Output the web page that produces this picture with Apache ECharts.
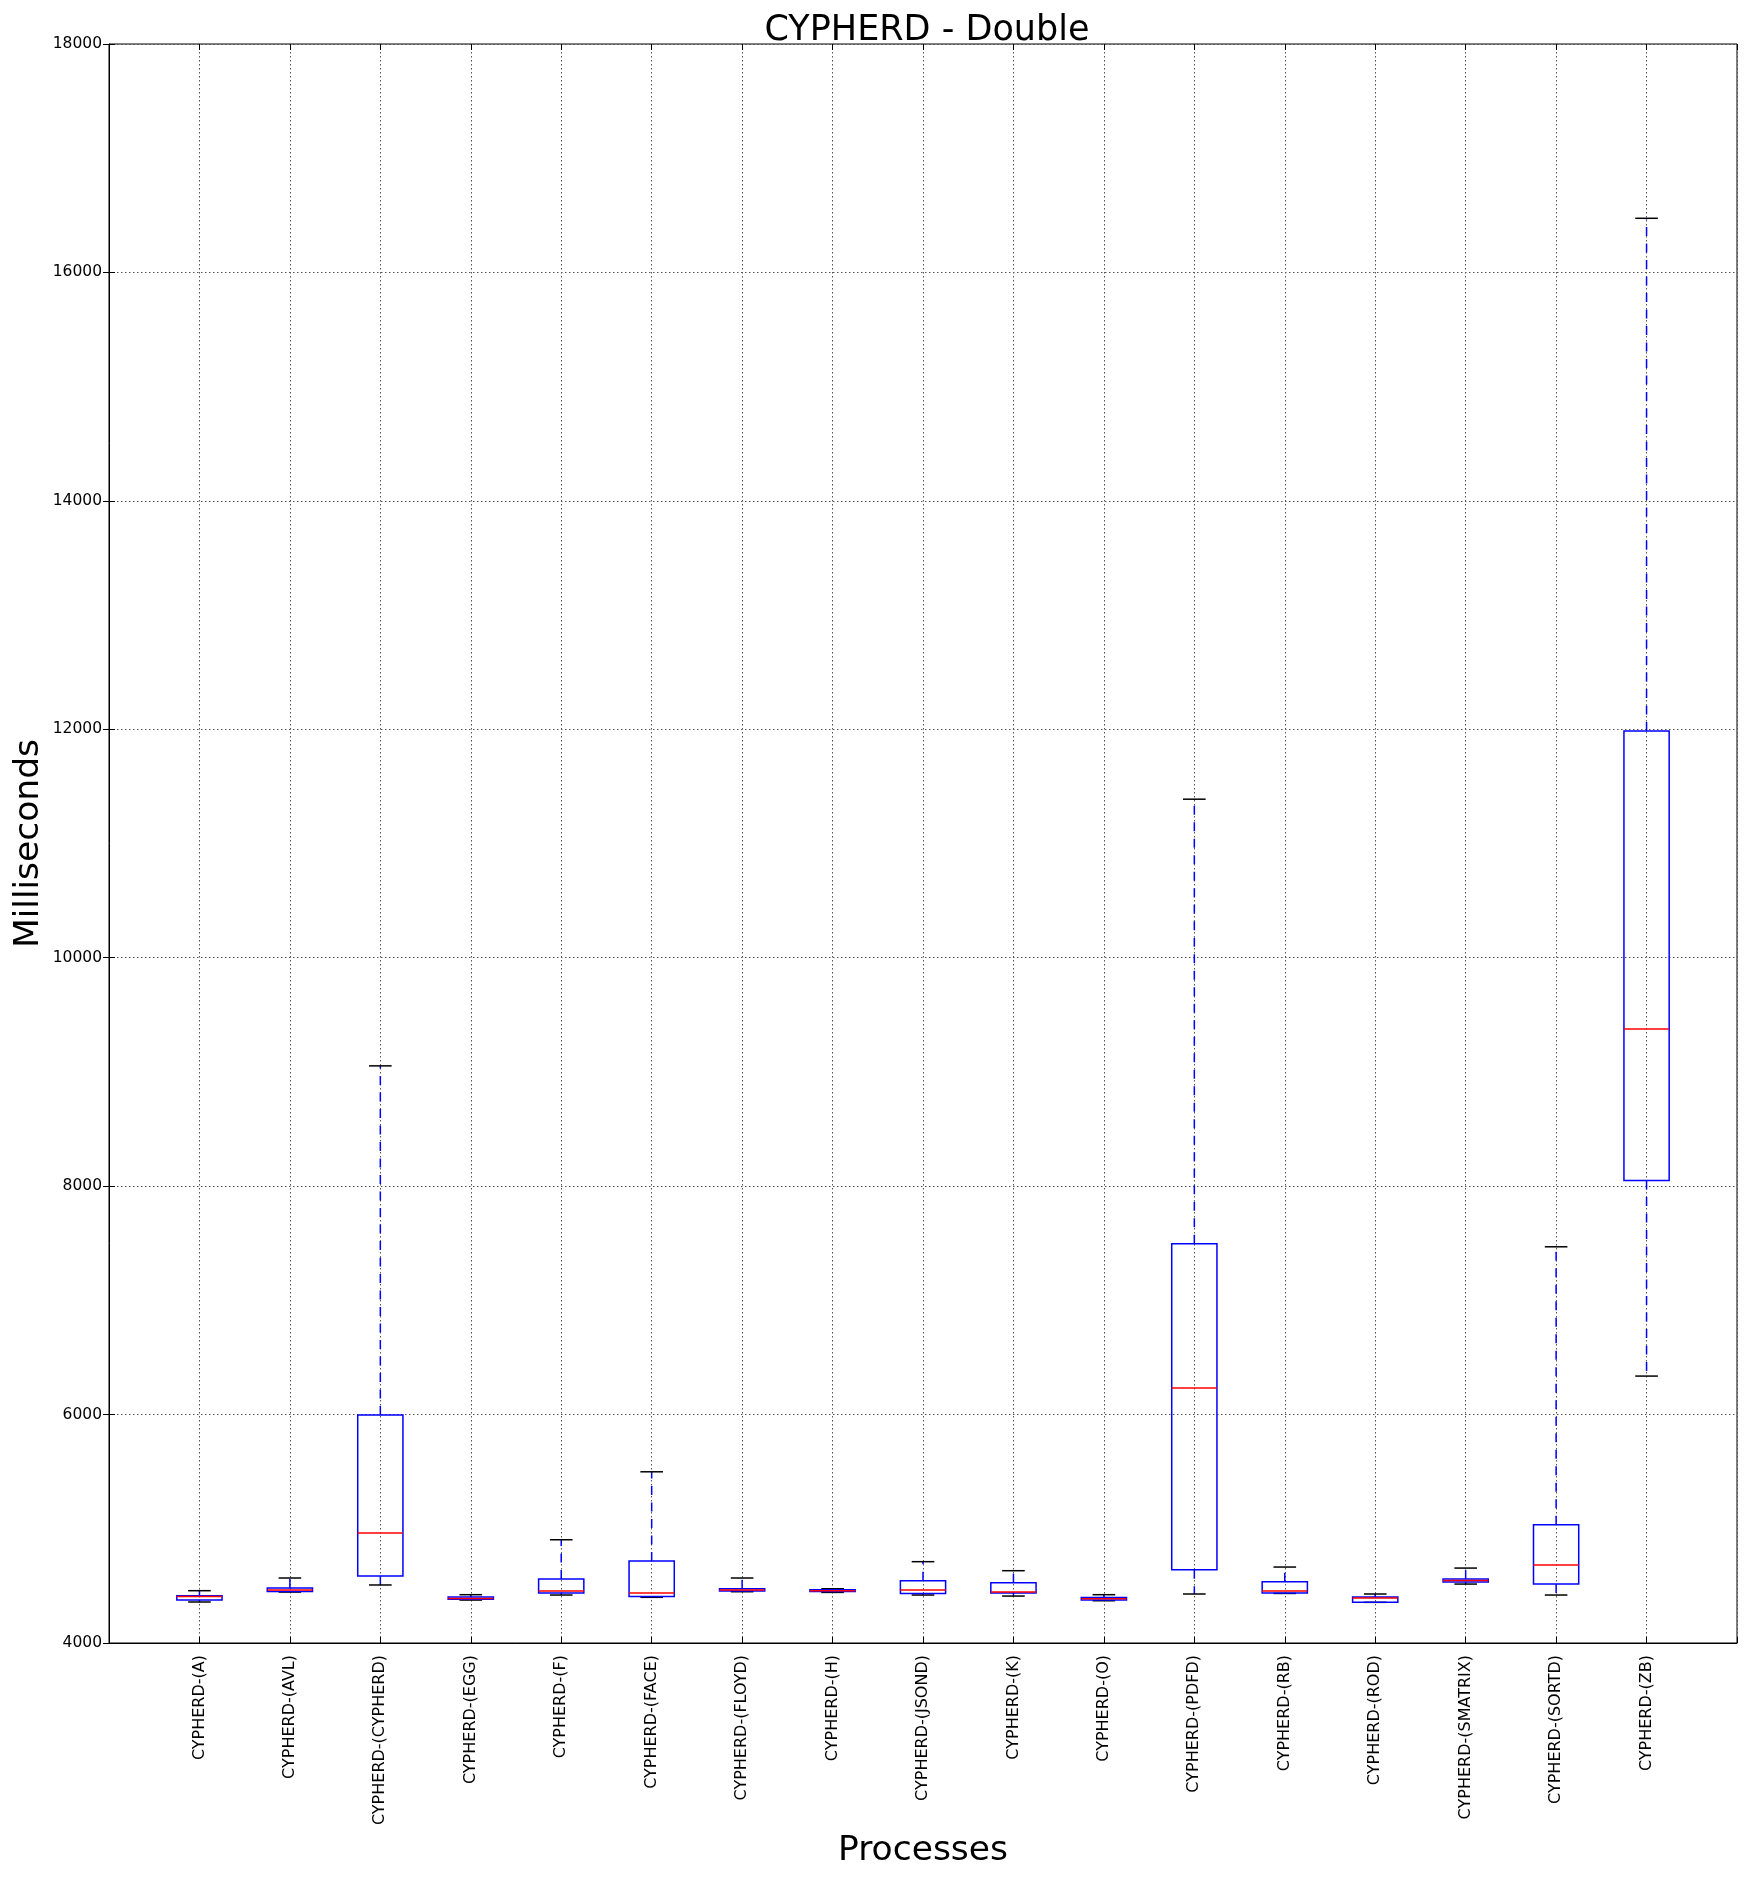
<!DOCTYPE html>
<html>
<head>
<meta charset="utf-8">
<script src="https://cdn.jsdelivr.net/npm/echarts@6/dist/echarts.min.js"></script>
<style>
html,body{margin:0;padding:0;background:#fff;}
#chart{width:1746px;height:1877px;}
</style>
</head>
<body>
<div id="chart"></div>
<script>
const categories = ['CYPHERD-(A)','CYPHERD-(AVL)','CYPHERD-(CYPHERD)','CYPHERD-(EGG)','CYPHERD-(F)','CYPHERD-(FACE)','CYPHERD-(FLOYD)','CYPHERD-(H)','CYPHERD-(JSOND)','CYPHERD-(K)','CYPHERD-(O)','CYPHERD-(PDFD)','CYPHERD-(RB)','CYPHERD-(ROD)','CYPHERD-(SMATRIX)','CYPHERD-(SORTD)','CYPHERD-(ZB)'];
const whiskerLow  = [4359, 4446, 4508, 4376, 4420, 4400, 4449, 4443, 4420, 4411, 4370, 4429, 4434, 4356, 4516, 4420, 6337];
const q1          = [4376, 4452, 4586, 4382, 4438, 4408, 4455, 4452, 4434, 4438, 4376, 4642, 4437, 4356, 4534, 4516, 8049];
const medians     = [4408, 4464, 4963, 4390, 4455, 4438, 4464, 4458, 4464, 4446, 4388, 6232, 4455, 4394, 4548, 4683, 9375];
const q3          = [4413, 4481, 5996, 4403, 4560, 4718, 4475, 4467, 4545, 4528, 4399, 7495, 4536, 4403, 4560, 5036, 11985];
const whiskerHigh = [4458, 4569, 9053, 4423, 4904, 5499, 4569, 4475, 4712, 4633, 4423, 11388, 4665, 4429, 4656, 7469, 16474];
const yTicks = {min: 4000, max: 18000, interval: 2000};

const data = categories.map((c, i) => [i + 1, whiskerLow[i], q1[i], medians[i], q3[i], whiskerHigh[i]]);

const chart = echarts.init(document.getElementById('chart'), null, {renderer: 'canvas'});
const FONT = 'DejaVu Sans';
const gridLine = {show: true, lineStyle: {color: '#555', width: 1, type: [1.5, 2.5]}};

const option = {
  backgroundColor: '#fff',
  animation: false,
  title: {
    text: 'CYPHERD - Double',
    left: 922, top: 8, textAlign: 'center',
    textStyle: {fontFamily: FONT, fontSize: 35, fontWeight: 'normal', color: '#000'}
  },
  grid: {left: 109, top: 44, right: 9, bottom: 234, show: true, borderColor: '#000', borderWidth: 1,
    containLabel: false, outerBoundsMode: 'none'},
  xAxis: [{
    type: 'value', min: 0, max: 18, interval: 1,
    name: 'Processes', nameLocation: 'middle', nameGap: 191, nameMoveOverlap: false,
    nameTextStyle: {fontFamily: FONT, fontSize: 34.5, color: '#000'},
    axisLine: {show: true, lineStyle: {color: '#000', width: 1}},
    axisTick: {show: true, inside: true, length: 6, lineStyle: {color: '#000'}},
    axisLabel: {
      rotate: 90, margin: 12, fontFamily: FONT, fontSize: 16, color: '#000',
      showMinLabel: true, showMaxLabel: true,
      formatter: v => (v >= 1 && v <= categories.length && Number.isInteger(v)) ? categories[v - 1] : ''
    },
    splitLine: gridLine
  }, {
    type: 'value', position: 'top', min: 0, max: 18, interval: 1,
    axisLine: {show: false}, axisLabel: {show: false}, splitLine: {show: false},
    axisTick: {show: true, inside: true, length: 6, lineStyle: {color: '#000'}}
  }],
  yAxis: [{
    type: 'value', min: yTicks.min, max: yTicks.max, interval: yTicks.interval,
    name: 'Milliseconds', nameLocation: 'middle', nameGap: 62, nameRotate: 90, nameMoveOverlap: false,
    nameTextStyle: {fontFamily: FONT, fontSize: 34.5, color: '#000'},
    axisLine: {show: true, lineStyle: {color: '#000', width: 1}},
    axisTick: {show: true, inside: true, length: 6, lineStyle: {color: '#000'}},
    axisLabel: {margin: 7, fontFamily: FONT, fontSize: 15.5, color: '#000', formatter: v => String(v)},
    splitLine: gridLine
  }, {
    type: 'value', position: 'right', min: yTicks.min, max: yTicks.max, interval: yTicks.interval,
    axisLine: {show: false}, axisLabel: {show: false}, splitLine: {show: false},
    axisTick: {show: true, inside: true, length: 6, lineStyle: {color: '#000'}}
  }],
  series: [{
    type: 'custom',
    xAxisIndex: 0, yAxisIndex: 0,
    data: data,
    encode: {x: 0, y: [1, 2, 3, 4, 5]},
    renderItem: function (params, api) {
      const x = api.value(0);
      const lo = api.value(1), a = api.value(2), m = api.value(3), b = api.value(4), hi = api.value(5);
      const unit = api.size([1, 0])[0];
      const hw = unit * 0.25;
      const cw = unit * 0.125;
      const pLo = api.coord([x, lo]), pA = api.coord([x, a]), pM = api.coord([x, m]), pB = api.coord([x, b]), pHi = api.coord([x, hi]);
      const cx = pA[0];
      const blue = '#0000ff';
      const children = [];
      children.push({type: 'line', shape: {x1: cx, y1: pB[1], x2: cx, y2: pHi[1]},
        style: {stroke: blue, lineWidth: 1.5, lineDash: [9, 7.5]}});
      children.push({type: 'line', shape: {x1: cx, y1: pA[1], x2: cx, y2: pLo[1]},
        style: {stroke: blue, lineWidth: 1.5, lineDash: [9, 7.5]}});
      children.push({type: 'line', shape: {x1: cx - cw, y1: pHi[1], x2: cx + cw, y2: pHi[1]},
        style: {stroke: '#000', lineWidth: 1.5}});
      children.push({type: 'line', shape: {x1: cx - cw, y1: pLo[1], x2: cx + cw, y2: pLo[1]},
        style: {stroke: '#000', lineWidth: 1.5}});
      children.push({type: 'rect', shape: {x: cx - hw, y: pB[1], width: 2 * hw, height: pA[1] - pB[1]},
        style: {fill: 'none', stroke: blue, lineWidth: 1.5}});
      children.push({type: 'line', shape: {x1: cx - hw, y1: pM[1], x2: cx + hw, y2: pM[1]},
        style: {stroke: '#ff0000', lineWidth: 1.5}});
      return {type: 'group', children: children};
    }
  }]
};
chart.setOption(option);
</script>
</body>
</html>
